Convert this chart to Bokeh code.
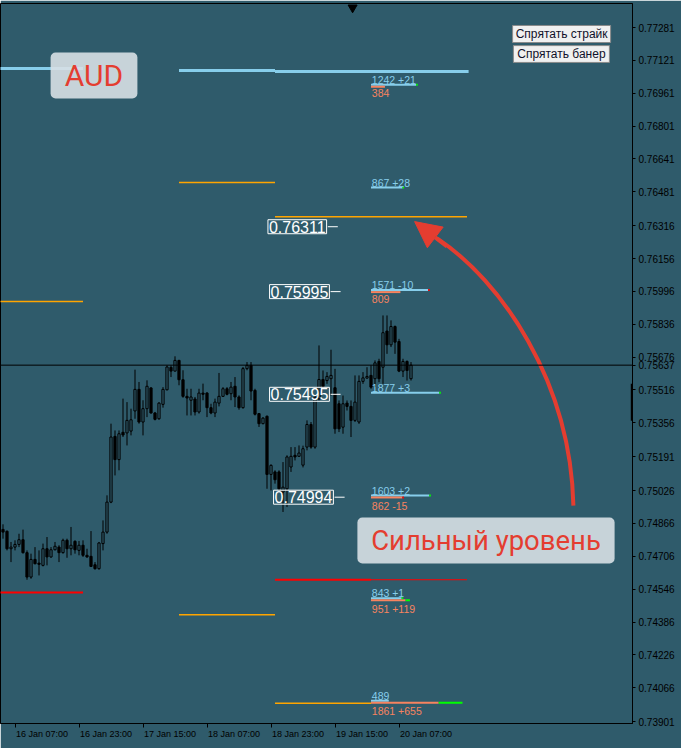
from bokeh.plotting import figure
from bokeh.models import (Range1d, FixedTicker, PrintfTickFormatter, Span, Label,
                          Arrow, NormalHead, ColumnDataSource)
from bokeh.core.properties import value
from bokeh.embed import file_html
from bokeh.resources import INLINE

# ---------------- data (AUDUSD H1, 16-20 Jan) ----------------
candle_open = [0.74837, 0.74828, 0.74743, 0.74751, 0.74764, 0.74787, 0.74724, 0.74605, 0.74691, 0.74673,
               0.74662, 0.74743, 0.74703, 0.74738, 0.74751, 0.74724, 0.74784, 0.74743, 0.74779, 0.74735,
               0.74760, 0.74711, 0.74706, 0.74665, 0.74646, 0.74768, 0.74824, 0.74970, 0.75290, 0.75177,
               0.75310, 0.75307, 0.75316, 0.75414, 0.75519, 0.75360, 0.75425, 0.75526, 0.75404, 0.75376,
               0.75446, 0.75517, 0.75626, 0.75608, 0.75660, 0.75566, 0.75485, 0.75466, 0.75472, 0.75409,
               0.75501, 0.75501, 0.75430, 0.75404, 0.75452, 0.75485, 0.75522, 0.75498, 0.75534, 0.75482,
               0.75430, 0.75620, 0.75636, 0.75514, 0.75401, 0.75352, 0.75388, 0.75105, 0.75117, 0.75117,
               0.75019, 0.75035, 0.75141, 0.75198, 0.75193, 0.75150, 0.75238, 0.75348, 0.75238, 0.75473,
               0.75567, 0.75562, 0.75571, 0.75527, 0.75449, 0.75335, 0.75452, 0.75436, 0.75368, 0.75360,
               0.75558, 0.75574, 0.75587, 0.75571, 0.75655, 0.75627, 0.75803, 0.75736, 0.75825, 0.75752,
               0.75608, 0.75655, 0.75571]
candle_high = [0.74862, 0.74832, 0.74776, 0.74784, 0.74816, 0.74836, 0.74735, 0.74719, 0.74751, 0.74735,
               0.74768, 0.74800, 0.74751, 0.74776, 0.74760, 0.74792, 0.74792, 0.74849, 0.74784, 0.74781,
               0.74784, 0.74743, 0.74829, 0.74678, 0.74776, 0.74881, 0.75003, 0.75352, 0.75319, 0.75319,
               0.75474, 0.75457, 0.75425, 0.75615, 0.75555, 0.75466, 0.75563, 0.75530, 0.75409, 0.75457,
               0.75530, 0.75636, 0.75636, 0.75680, 0.75663, 0.75612, 0.75522, 0.75522, 0.75482, 0.75522,
               0.75547, 0.75506, 0.75449, 0.75474, 0.75599, 0.75530, 0.75530, 0.75555, 0.75579, 0.75490,
               0.75628, 0.75652, 0.75652, 0.75522, 0.75404, 0.75384, 0.75392, 0.75154, 0.75125, 0.75125,
               0.75165, 0.75198, 0.75238, 0.75238, 0.75246, 0.75245, 0.75368, 0.75360, 0.75489, 0.75733,
               0.75611, 0.75603, 0.75712, 0.75619, 0.75465, 0.75489, 0.75465, 0.75465, 0.75587, 0.75587,
               0.75603, 0.75627, 0.75636, 0.75660, 0.75668, 0.75879, 0.75879, 0.75855, 0.75830, 0.75765,
               0.75668, 0.75660, 0.75652]
candle_low = [0.74792, 0.74735, 0.74678, 0.74735, 0.74751, 0.74719, 0.74592, 0.74597, 0.74667, 0.74613,
              0.74657, 0.74662, 0.74699, 0.74735, 0.74678, 0.74719, 0.74699, 0.74711, 0.74719, 0.74711,
              0.74703, 0.74699, 0.74654, 0.74641, 0.74641, 0.74735, 0.74816, 0.74965, 0.75100, 0.75125,
              0.75287, 0.75246, 0.75295, 0.75376, 0.75352, 0.75295, 0.75384, 0.75401, 0.75368, 0.75371,
              0.75430, 0.75514, 0.75579, 0.75607, 0.75539, 0.75478, 0.75392, 0.75392, 0.75392, 0.75401,
              0.75466, 0.75384, 0.75398, 0.75384, 0.75436, 0.75482, 0.75490, 0.75466, 0.75433, 0.75420,
              0.75425, 0.75612, 0.75466, 0.75392, 0.75336, 0.75349, 0.75035, 0.75027, 0.75060, 0.75027,
              0.74922, 0.74946, 0.75117, 0.75173, 0.75190, 0.75139, 0.75222, 0.75230, 0.75230, 0.75465,
              0.75522, 0.75546, 0.75489, 0.75303, 0.75311, 0.75303, 0.75416, 0.75287, 0.75360, 0.75351,
              0.75546, 0.75571, 0.75522, 0.75530, 0.75554, 0.75546, 0.75692, 0.75725, 0.75692, 0.75603,
              0.75579, 0.75562, 0.75562]
candle_close = [0.74824, 0.74743, 0.74751, 0.74764, 0.74787, 0.74724, 0.74605, 0.74691, 0.74670, 0.74667,
                0.74743, 0.74703, 0.74738, 0.74755, 0.74724, 0.74784, 0.74743, 0.74760, 0.74738, 0.74760,
                0.74711, 0.74703, 0.74657, 0.74646, 0.74771, 0.74824, 0.74970, 0.75287, 0.75177, 0.75303,
                0.75297, 0.75368, 0.75371, 0.75519, 0.75360, 0.75425, 0.75534, 0.75404, 0.75373, 0.75452,
                0.75519, 0.75628, 0.75608, 0.75660, 0.75566, 0.75485, 0.75477, 0.75482, 0.75409, 0.75501,
                0.75495, 0.75430, 0.75404, 0.75457, 0.75485, 0.75522, 0.75495, 0.75530, 0.75482, 0.75430,
                0.75620, 0.75636, 0.75511, 0.75398, 0.75352, 0.75379, 0.75105, 0.75149, 0.75079, 0.75035,
                0.75043, 0.75190, 0.75193, 0.75190, 0.75209, 0.75230, 0.75348, 0.75238, 0.75481, 0.75567,
                0.75533, 0.75582, 0.75587, 0.75327, 0.75327, 0.75449, 0.75436, 0.75368, 0.75457, 0.75558,
                0.75575, 0.75582, 0.75530, 0.75648, 0.75571, 0.75795, 0.75736, 0.75825, 0.75749, 0.75608,
                0.75655, 0.75611, 0.75637]

price_ticks = [0.77281, 0.77121, 0.76961, 0.76801, 0.76641, 0.76481, 0.76316, 0.76156, 0.75996, 0.75836,
               0.75676, 0.75516, 0.75356, 0.75191, 0.75026, 0.74866, 0.74706, 0.74546, 0.74386, 0.74226,
               0.74066, 0.73901]
time_tick_idx = [3, 19, 35, 51, 67, 83, 99]          # bar index of each time tick
time_tick_labels = ["16 Jan 07:00", "16 Jan 23:00", "17 Jan 15:00", "18 Jan 07:00",
                    "18 Jan 23:00", "19 Jan 15:00", "20 Jan 07:00"]
current_price = 0.75637

# option strikes (calls = blue, puts = coral)
strikes = [0.7700, 0.7650, 0.7600, 0.7550, 0.7500, 0.7450, 0.7400]
call_oi = [1242, 867, 1571, 1877, 1603, 843, 489]
call_chg = [21, 28, -10, 3, 2, 1, 0]
put_oi = [384, 0, 809, 0, 862, 951, 1861]
put_chg = [0, 0, 0, 0, -15, 119, 655]

# daily levels: start bar, end bar, price
level_start = [-1, -1, -1, 44, 44, 44, 68, 68, 68, 92, 68]
level_end = [20, 20, 20, 68, 68, 68, 116.4, 116, 92, 116, 92]
level_price = [0.77081, 0.75947, 0.74530, 0.77072, 0.76526, 0.74422, 0.77067, 0.76360, 0.74592, 0.74592, 0.73990]
level_kind = ["sky", "orange", "red", "sky", "orange", "orange", "sky", "orange", "red", "red_thin", "orange"]

key_levels = [0.76311, 0.75995, 0.75495, 0.74994]

# ---------------- style ----------------
BG = "#2f5b6b"
SKY = "#87ceeb"
ORANGE = "#ffa500"
CORAL = "#f7835f"
GREEN = "#00ff00"
RED = "#ff0000"
ANN_RED = "#e43d30"
KIND_COLOR = {"sky": SKY, "orange": ORANGE, "red": RED, "red_thin": RED}
KIND_WIDTH = {"sky": 3, "orange": 1.5, "red": 2, "red_thin": 1}
PX = 0.0000487      # price span of one screen pixel
OI_PER_BAR = 110.0  # open interest per bar-width of strike histogram
DAY20 = 92
X_START, X_END = -0.625, 157.375
Y_START, Y_END = 0.73892, 0.77398

p = figure(width=681, height=748, output_backend="svg", toolbar_location=None,
           x_range=Range1d(X_START, X_END), y_range=Range1d(Y_START, Y_END),
           y_axis_location="right",
           min_border_left=0, min_border_right=49, min_border_top=3, min_border_bottom=25,
           background_fill_color=BG, border_fill_color=BG,
           outline_line_color="black", outline_line_width=1)
p.grid.visible = False

yax = p.yaxis[0]
yax.ticker = FixedTicker(ticks=price_ticks + [current_price])
yax.formatter = PrintfTickFormatter(format="%.5f")
yax.major_label_text_font = "Liberation Sans"
yax.major_label_text_font_size = "10px"
yax.major_label_text_color = "black"
yax.axis_line_color = "black"
yax.major_tick_line_color = "black"
yax.major_tick_out = 3
yax.major_tick_in = 0
yax.minor_tick_line_color = None
yax.major_label_standoff = 3

SHIFT = 6.75
xax = p.xaxis[0]
xax.ticker = FixedTicker(ticks=[t + SHIFT for t in time_tick_idx], minor_ticks=time_tick_idx)
xax.major_label_overrides = {t + SHIFT: lbl for t, lbl in zip(time_tick_idx, time_tick_labels)}
xax.major_label_text_font = "Liberation Sans"
xax.major_label_text_font_size = "9px"
xax.major_label_text_color = "black"
xax.axis_line_color = "black"
xax.major_tick_line_color = None
xax.major_tick_out = 4
xax.major_tick_in = 0
xax.minor_tick_line_color = "black"
xax.minor_tick_out = 4
xax.minor_tick_in = 0
xax.major_label_standoff = 1

# ---- level lines
lv = ColumnDataSource(dict(
    x0=level_start, x1=level_end, y=level_price,
    c=[KIND_COLOR[k] for k in level_kind], w=[KIND_WIDTH[k] for k in level_kind]))
p.segment(x0="x0", x1="x1", y0="y", y1="y", line_color="c", line_width="w", source=lv)

# ---- current price line
p.add_layout(Span(location=current_price, dimension="width", line_color="black", line_width=1))

# ---- candles
n = len(candle_open)
cs = ColumnDataSource(dict(
    x=list(range(n)), o=candle_open, h=candle_high, l=candle_low, c=candle_close,
    top=[max(o, c) for o, c in zip(candle_open, candle_close)],
    bot=[min(o, c) for o, c in zip(candle_open, candle_close)],
    fill=[BG if c >= o else "black" for o, c in zip(candle_open, candle_close)]))
p.segment(x0="x", x1="x", y0="h", y1="l", line_color="black", line_width=1, source=cs)
p.vbar(x="x", width=0.55, top="top", bottom="bot", fill_color="fill", line_color="black",
       line_width=1, source=cs)

# ---- strike histogram
cx0, cx1, cy, tx0, tx1, ty, tc = [], [], [], [], [], [], []
for s, oi, ch in zip(strikes, call_oi, call_chg):
    e = DAY20 + oi / OI_PER_BAR
    cx0.append(DAY20); cx1.append(e); cy.append(s + 0.5 * PX)
    if ch:
        tx0.append(e); tx1.append(e + max(abs(ch) / OI_PER_BAR, 0.4)); ty.append(s + 0.5 * PX)
        tc.append(GREEN if ch > 0 else RED)
px0, px1, py = [], [], []
for s, oi, ch in zip(strikes, put_oi, put_chg):
    if oi <= 0:
        continue
    e = DAY20 + oi / OI_PER_BAR
    px0.append(DAY20); px1.append(e); py.append(s - 1.5 * PX)
    if ch:
        tx0.append(e); tx1.append(e + max(abs(ch) / OI_PER_BAR, 0.4)); ty.append(s - 1.5 * PX)
        tc.append(GREEN if ch > 0 else RED)
p.segment(x0=cx0, x1=cx1, y0=cy, y1=cy, line_color=SKY, line_width=2)
p.segment(x0=px0, x1=px1, y0=py, y1=py, line_color=CORAL, line_width=2)
p.segment(x0=tx0, x1=tx1, y0=ty, y1=ty, line_color=tc, line_width=2)

call_text = [f"{o} {c:+d}" if c else f"{o}" for o, c in zip(call_oi, call_chg)]
put_text = [(f"{o} {c:+d}" if c else f"{o}") if o > 0 else "" for o, c in zip(put_oi, put_chg)]
p.text(x=[DAY20 + 0.2] * len(strikes), y=[s + 5.2 * PX for s in strikes], text=call_text,
       text_color=SKY, text_font=value("Liberation Sans"), text_font_size=value("10.5px"),
       text_baseline="alphabetic", text_align="left")
p.text(x=[DAY20 + 0.2] * len(strikes), y=[s - 4.0 * PX for s in strikes], text=put_text,
       text_color=CORAL, text_font=value("Liberation Sans"), text_font_size=value("10.5px"),
       text_baseline="top", text_align="left")

# ---- key level boxes
key_right = [80.9, 81.6, 81.6, 82.6]
for lvl, xr in zip(key_levels, key_right):
    p.add_layout(Label(x=xr, y=lvl, text=f"{lvl:.5f}", text_align="right", text_baseline="middle",
                       text_color="white", text_font="Liberation Sans", text_font_size="16px",
                       border_line_color="white", border_line_width=1, padding=1))
p.segment(x0=[x + 0.3 for x in key_right], x1=[x + 2.8 for x in key_right],
          y0=key_levels, y1=key_levels, line_color="white", line_width=1)

# ---- annotation boxes
p.quad(left=[11.9, 88.6], right=[33.6, 152.9], top=[0.77159, 0.74895], bottom=[0.76935, 0.74671],
       fill_color="#d8e0e5", fill_alpha=0.9, line_color=None, border_radius=5)
p.text(x=[22.75], y=[0.77047], text=["AUD"],
       text_color=ANN_RED, text_font=value("Roboto"), text_font_size=value("30px"),
       text_align="center", text_baseline="middle")
p.text(x=[120.75], y=[0.74783], text=["Сильный уровень"],
       text_color=ANN_RED, text_font=value("Roboto"), text_font_size=value("27.5px"),
       text_align="center", text_baseline="middle")

# buttons
p.quad(left=[127.4, 127.6], right=[151.9, 151.6], top=[0.77291, 0.77193], bottom=[0.77208, 0.77111],
       fill_color="#f0f0f0", line_color="#8a8a8a", line_width=1)
p.text(x=[139.65, 139.6], y=[0.77249, 0.77152], text=["Спрятать страйк", "Спрятать банер"],
       text_color="#10102a", text_font=value("Liberation Sans"), text_font_size=value("12px"),
       text_align="center", text_baseline="middle")

# arrow
p.bezier(x0=[142.6], y0=[0.74953], x1=[108.6], y1=[0.76253],
         cx0=[141.9], cy0=[0.75562], cx1=[124.4], cy1=[0.76049],
         line_color=ANN_RED, line_width=4)
p.add_layout(Arrow(x_start=111.0, y_start=0.76215, x_end=102.9, y_end=0.76336,
                   line_color=ANN_RED, line_width=4,
                   end=NormalHead(size=26, fill_color=ANN_RED, line_color=ANN_RED)))

# shift marker and axis bar
p.scatter(x=[87.4], y=[0.77378], marker="inverted_triangle", size=9, color="black")
p.segment(x0=[X_END - 0.05], x1=[X_END - 0.05], y0=[0.75547], y1=[0.75366],
          line_color="black", line_width=3)

open("out.html", "w").write(file_html(p, INLINE))
